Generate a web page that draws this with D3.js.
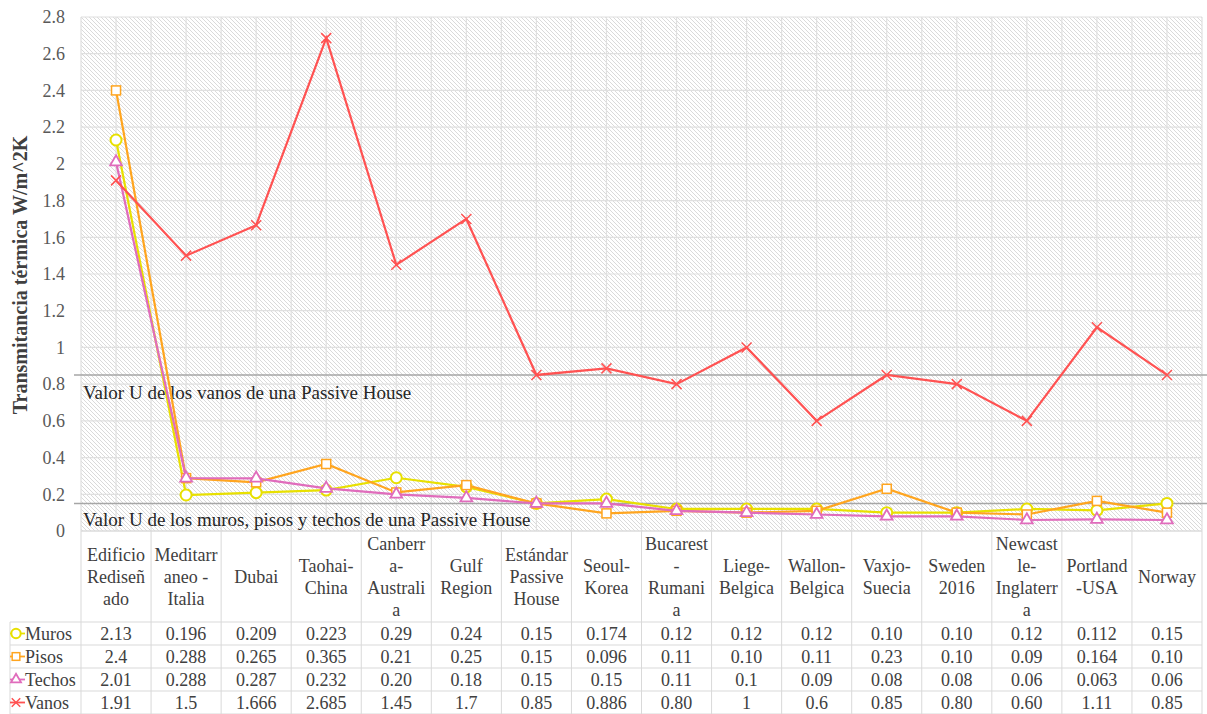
<!DOCTYPE html>
<html>
<head>
<meta charset="utf-8">
<script src="https://cdn.jsdelivr.net/npm/d3@7"></script>
<style>
  body { margin: 0; background: #fff; }
  svg text { font-family: "Liberation Serif", "Times New Roman", Times, "DejaVu Serif", serif !important; }
</style>
</head>
<body>
<div id="chart-area"></div>
<script>
var categories = ["Edificio Rediseñado", "Meditarraneo - Italia", "Dubai", "Taohai-China", "Canberra-Australia",
    "Gulf Region", "Estándar Passive House", "Seoul-Korea", "Bucarest-Rumania", "Liege-Belgica",
    "Wallon-Belgica", "Vaxjo-Suecia", "Sweden 2016", "Newcastle-Inglaterra", "Portland-USA", "Norway"];

var headerLines = [["Edificio", "Rediseñ", "ado"], ["Meditarr", "aneo -", "Italia"], ["Dubai"], ["Taohai-", "China"],
    ["Canberr", "a-", "Australi", "a"], ["Gulf", "Region"], ["Estándar", "Passive", "House"], ["Seoul-", "Korea"],
    ["Bucarest", "-", "Rumani", "a"], ["Liege-", "Belgica"], ["Wallon-", "Belgica"], ["Vaxjo-", "Suecia"],
    ["Sweden", "2016"], ["Newcast", "le-", "Inglaterr", "a"], ["Portland", "-USA"], ["Norway"]];

var muros  = [2.13, 0.196, 0.209, 0.223, 0.29, 0.24, 0.15, 0.174, 0.12, 0.12, 0.12, 0.10, 0.10, 0.12, 0.112, 0.15];
var pisos  = [2.4, 0.288, 0.265, 0.365, 0.21, 0.25, 0.15, 0.096, 0.11, 0.10, 0.11, 0.23, 0.10, 0.09, 0.164, 0.10];
var techos = [2.01, 0.288, 0.287, 0.232, 0.20, 0.18, 0.15, 0.15, 0.11, 0.1, 0.09, 0.08, 0.08, 0.06, 0.063, 0.06];
var vanos  = [1.91, 1.5, 1.666, 2.685, 1.45, 1.7, 0.85, 0.886, 0.80, 1, 0.6, 0.85, 0.80, 0.60, 1.11, 0.85];

// texto tal como aparece en la tabla
var murosTxt  = ["2.13", "0.196", "0.209", "0.223", "0.29", "0.24", "0.15", "0.174", "0.12", "0.12", "0.12", "0.10", "0.10", "0.12", "0.112", "0.15"];
var pisosTxt  = ["2.4", "0.288", "0.265", "0.365", "0.21", "0.25", "0.15", "0.096", "0.11", "0.10", "0.11", "0.23", "0.10", "0.09", "0.164", "0.10"];
var techosTxt = ["2.01", "0.288", "0.287", "0.232", "0.20", "0.18", "0.15", "0.15", "0.11", "0.1", "0.09", "0.08", "0.08", "0.06", "0.063", "0.06"];
var vanosTxt  = ["1.91", "1.5", "1.666", "2.685", "1.45", "1.7", "0.85", "0.886", "0.80", "1", "0.6", "0.85", "0.80", "0.60", "1.11", "0.85"];

var yTicks = [0, 0.2, 0.4, 0.6, 0.8, 1, 1.2, 1.4, 1.6, 1.8, 2, 2.2, 2.4, 2.6, 2.8];
var refVanos = 0.85, refOpacos = 0.15;

var series = [
    {name: "Muros", values: muros, text: murosTxt, color: "#e8e000", marker: "circle"},
    {name: "Pisos", values: pisos, text: pisosTxt, color: "#ffa51f", marker: "square"},
    {name: "Techos", values: techos, text: techosTxt, color: "#e06cbc", marker: "triangle"},
    {name: "Vanos", values: vanos, text: vanosTxt, color: "#ff5252", marker: "cross"}
];

var FONT = "'Liberation Serif', 'Times New Roman', Times, 'DejaVu Serif', serif";
var W = 1207, H = 714;
var plot = {left: 81, right: 1202, top: 17, bottom: 531};
var rowH = 23, headerBottom = 622;

var svg = d3.select("#chart-area").append("svg")
    .attr("width", W).attr("height", H)
    .attr("font-family", FONT);

var x = d3.scaleBand()
    .domain(categories)
    .range([plot.left, plot.right]);

var y = d3.scaleLinear()
    .domain([0, 2.8])
    .range([plot.bottom, plot.top]);

// hatch pattern
var defs = svg.append("defs");
var pat = defs.append("pattern")
    .attr("id", "hatch")
    .attr("patternUnits", "userSpaceOnUse")
    .attr("width", 4).attr("height", 4);
pat.append("rect").attr("width", 4).attr("height", 4).attr("fill", "#fff");
pat.append("path")
    .attr("d", "M-1,-1 L5,5 M-1,3 L1,5 M3,-1 L5,1")
    .attr("stroke", "#dadada").attr("stroke-width", 1);

svg.append("rect")
    .attr("x", plot.left).attr("y", plot.top)
    .attr("width", plot.right - plot.left).attr("height", plot.bottom - plot.top)
    .attr("fill", "url(#hatch)");

// grid
var grid = svg.append("g");
grid.selectAll(".hg").data(yTicks).enter().append("line")
    .attr("x1", plot.left).attr("x2", plot.right)
    .attr("y1", d => y(d)).attr("y2", d => y(d))
    .attr("stroke", "#e0e0e0").attr("stroke-width", 1.2);
var halfSteps = d3.range(categories.length * 2 + 1);
grid.selectAll(".vg").data(halfSteps).enter().append("line")
    .attr("x1", d => plot.left + d * x.bandwidth() / 2).attr("x2", d => plot.left + d * x.bandwidth() / 2)
    .attr("y1", plot.top).attr("y2", plot.bottom)
    .attr("stroke", "#e0e0e0").attr("stroke-width", 1.2);

// y axis
var yAxis = d3.axisLeft(y).tickValues(yTicks).tickSize(0).tickPadding(16).tickFormat(d3.format("~g"));
var yAxisG = svg.append("g")
    .attr("transform", "translate(" + plot.left + ",0)")
    .call(yAxis)
    .attr("font-family", FONT);
yAxisG.select(".domain").remove();
yAxisG.selectAll("text")
    .attr("font-size", 18).attr("fill", "#595959");

svg.append("text")
    .attr("transform", "translate(20,275) rotate(-90)")
    .attr("text-anchor", "middle")
    .attr("dy", "0.35em")
    .attr("font-size", 20).attr("font-weight", "bold").attr("fill", "#404040")
    .text("Transmitancia térmica W/m^2K");

// reference lines
[refVanos, refOpacos].forEach(function(v) {
    svg.append("line")
        .attr("x1", 74).attr("x2", W)
        .attr("y1", y(v)).attr("y2", y(v))
        .attr("stroke", "#a6a6a6").attr("stroke-width", 1.5);
});
svg.append("text").attr("x", 83).attr("y", y(refVanos) + 24)
    .attr("font-size", 19).attr("fill", "#262626")
    .text("Valor U de los vanos de una Passive House");
svg.append("text").attr("x", 83).attr("y", y(refOpacos) + 23)
    .attr("font-size", 19).attr("fill", "#262626")
    .text("Valor U de los muros, pisos y techos de una Passive House");

// marker drawing
function drawMarker(sel, type, color, s) {
    if (type === "circle") {
        sel.append("circle").attr("r", 5.5 * s)
            .attr("fill", "#fff").attr("stroke", color).attr("stroke-width", 2);
    } else if (type === "square") {
        sel.append("rect").attr("x", -4.5 * s).attr("y", -4.5 * s)
            .attr("width", 9 * s).attr("height", 9 * s)
            .attr("fill", "#fff").attr("stroke", color).attr("stroke-width", 1.5);
    } else if (type === "triangle") {
        sel.append("path").attr("d", d3.symbol(d3.symbolTriangle, 60 * s * s))
            .attr("fill", "#fff").attr("stroke", color).attr("stroke-width", 1.8);
    } else {
        var r = 5 * s;
        sel.append("path").attr("d", "M" + (-r) + "," + (-r) + "L" + r + "," + r + "M" + (-r) + "," + r + "L" + r + "," + (-r))
            .attr("fill", "none").attr("stroke", color).attr("stroke-width", 1.5);
    }
}

var line = d3.line()
    .x((d, i) => x(categories[i]) + x.bandwidth() / 2)
    .y(d => y(d));

series.forEach(function(s) {
    var g = svg.append("g");
    g.append("path")
        .attr("d", line(s.values))
        .attr("fill", "none").attr("stroke", s.color).attr("stroke-width", 2.2);
    g.selectAll(".m").data(s.values).enter().append("g")
        .attr("transform", (d, i) => "translate(" + (x(categories[i]) + x.bandwidth() / 2) + "," + y(d) + ")")
        .each(function() { drawMarker(d3.select(this), s.marker, s.color, 1); });
});

// data table
var table = svg.append("g");
var border = "#d9d9d9";
var tableBottom = headerBottom + rowH * series.length;

// horizontal rules
table.append("line").attr("x1", plot.left).attr("x2", plot.right)
    .attr("y1", plot.bottom).attr("y2", plot.bottom).attr("stroke", border);
d3.range(series.length + 1).forEach(function(r) {
    var yy = headerBottom + r * rowH;
    table.append("line").attr("x1", 10).attr("x2", plot.right)
        .attr("y1", yy).attr("y2", yy).attr("stroke", border);
});
// vertical rules
table.append("line").attr("x1", 10).attr("x2", 10)
    .attr("y1", headerBottom).attr("y2", tableBottom).attr("stroke", border);
d3.range(categories.length + 1).forEach(function(c) {
    var xx = plot.left + c * x.bandwidth();
    table.append("line").attr("x1", xx).attr("x2", xx)
        .attr("y1", plot.bottom).attr("y2", tableBottom).attr("stroke", border);
});

// header
var lh = 21.8;
var headerMid = (plot.bottom + headerBottom) / 2;
categories.forEach(function(c, i) {
    var lines = headerLines[i];
    var t = table.append("text")
        .attr("text-anchor", "middle")
        .attr("font-size", 18).attr("fill", "#404040");
    lines.forEach(function(l, k) {
        t.append("tspan")
            .attr("x", x(c) + x.bandwidth() / 2)
            .attr("y", headerMid + (k - (lines.length - 1) / 2) * lh)
            .attr("dy", "0.35em")
            .text(l);
    });
});

// rows
series.forEach(function(s, r) {
    var cy = headerBottom + r * rowH + rowH / 2;
    var lg = table.append("g").attr("transform", "translate(16," + cy + ")");
    lg.append("line").attr("x1", -6).attr("x2", 9).attr("y1", 0).attr("y2", 0)
        .attr("stroke", s.color).attr("stroke-width", 1.8);
    drawMarker(lg, s.marker, s.color, 0.85);
    table.append("text").attr("x", 25).attr("y", cy).attr("dy", "0.35em")
        .attr("font-size", 18).attr("fill", "#404040").text(s.name);
    s.text.forEach(function(v, i) {
        table.append("text")
            .attr("x", x(categories[i]) + x.bandwidth() / 2)
            .attr("y", cy).attr("dy", "0.35em")
            .attr("text-anchor", "middle")
            .attr("font-size", 18).attr("fill", "#404040")
            .text(v);
    });
});
</script>
</body>
</html>
